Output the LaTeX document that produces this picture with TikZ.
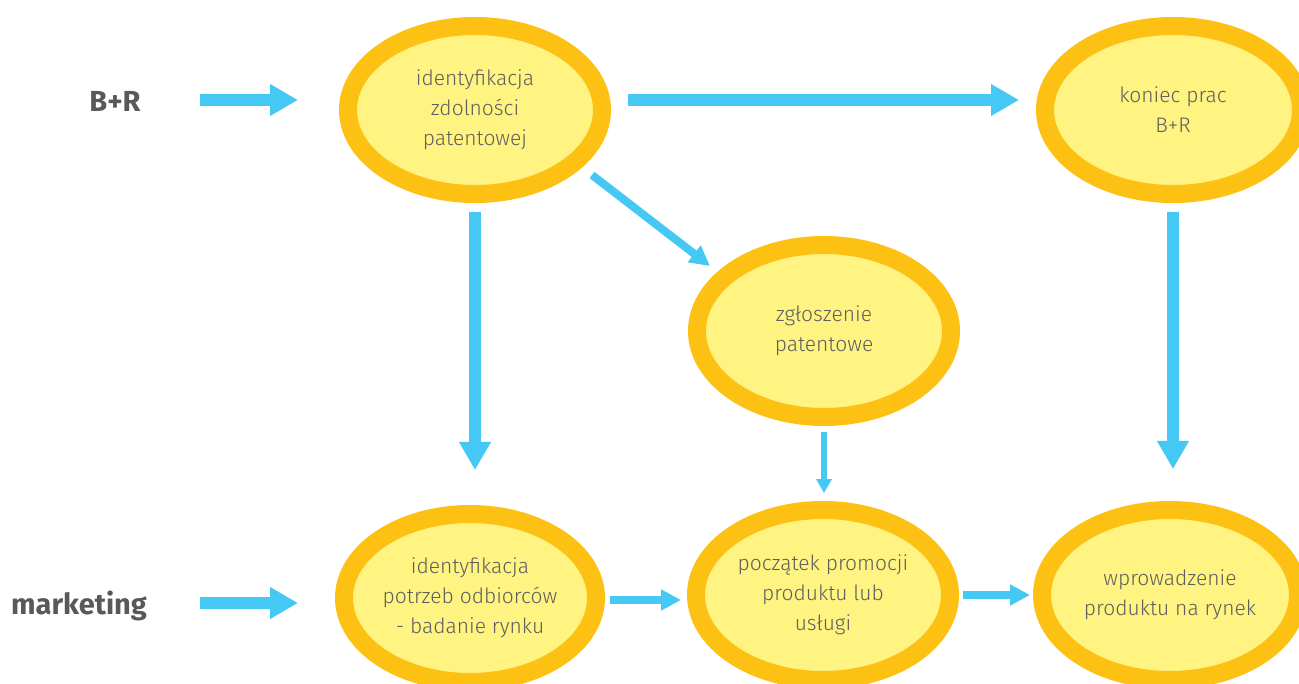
\documentclass[tikz,border=0pt]{standalone}
\usepackage{fontspec}
\setmainfont{Fira Sans}
\newfontfamily\lightfont{Fira Sans Light}
\usetikzlibrary{shapes.geometric,arrows.meta}
\definecolor{orng}{HTML}{FDC113}
\definecolor{ylw}{HTML}{FFF381}
\definecolor{blu}{HTML}{45C8F4}
\definecolor{txtc}{HTML}{5E5E5E}
\definecolor{lblc}{HTML}{58595B}
\begin{document}
\begin{tikzpicture}[x=1pt,y=-1pt,
  ell/.style={ellipse, draw=orng, fill=ylw, line width=18pt, inner sep=0pt, align=center, text=txtc, font=\lightfont\fontsize{21}{30}\selectfont},
  lbl/.style={text=lblc, font=\fontsize{29}{30}\selectfont\bfseries},
  bigarr/.style={draw=blu, line width=12pt, -{Triangle[length=28pt,width=30pt]}},
  midarr/.style={draw=blu, line width=8pt, -{Triangle[length=20pt,width=20pt]}},
  smallarr/.style={draw=blu, line width=6pt, -{Triangle[length=14pt,width=15pt]}}]
\useasboundingbox[fill=white] (0,0) rectangle (1299,684);

\node[ell, minimum width=254, minimum height=168] (e1) at (475,110) {identyfikacja\\zdolności\\patentowej};
\node[ell, minimum width=256, minimum height=168] (e2) at (1173,110) {koniec prac\\B+R};
\node[ell, minimum width=254, minimum height=172] (e3) at (824,331) {zgłoszenie\\patentowe};
\node[ell, minimum width=252, minimum height=168] (e4) at (470,598) {identyfikacja\\potrzeb odbiorców\\- badanie rynku};
\node[ell, minimum width=254, minimum height=170] (e5) at (823,595) {początek promocji\\produktu lub\\usługi};
\node[ell, minimum width=256, minimum height=170] (e6) at (1170,595) {wprowadzenie\\produktu na rynek};

\node[lbl] (br) at (115,101) {B+R};
\node[lbl] (mk) at (79,606) {marketing};
\coordinate (s1) at (200,100);
\coordinate (s2) at (200,603);

\draw[bigarr] (s1) -- ([shift={(-41,-10)}]e1.west);
\draw[bigarr] (s2) -- ([shift={(-37,5)}]e4.west);
\draw[bigarr] ([shift={(17,-10)}]e1.east) -- ([shift={(-17,-10)}]e2.west);
\draw[bigarr] ([shift={(0,9)}]e1.south) -- ([shift={(5,-35)}]e4.north);
\draw[bigarr] ([shift={(0,9)}]e2.south) -- ([shift={(3,-32)}]e6.north);
\draw[midarr] ([shift={(117,65)}]e1.center) -- ([shift={(-114,-65)}]e3.center);
\draw[smallarr] ([shift={(0,6)}]e3.south) -- ([shift={(1,-8)}]e5.north);
\draw[midarr] ([shift={(5,2)}]e4.east) -- ([shift={(-6,5)}]e5.west);
\draw[midarr] ([shift={(4,0)}]e5.east) -- ([shift={(-3,0)}]e6.west);
\end{tikzpicture}
\end{document}
